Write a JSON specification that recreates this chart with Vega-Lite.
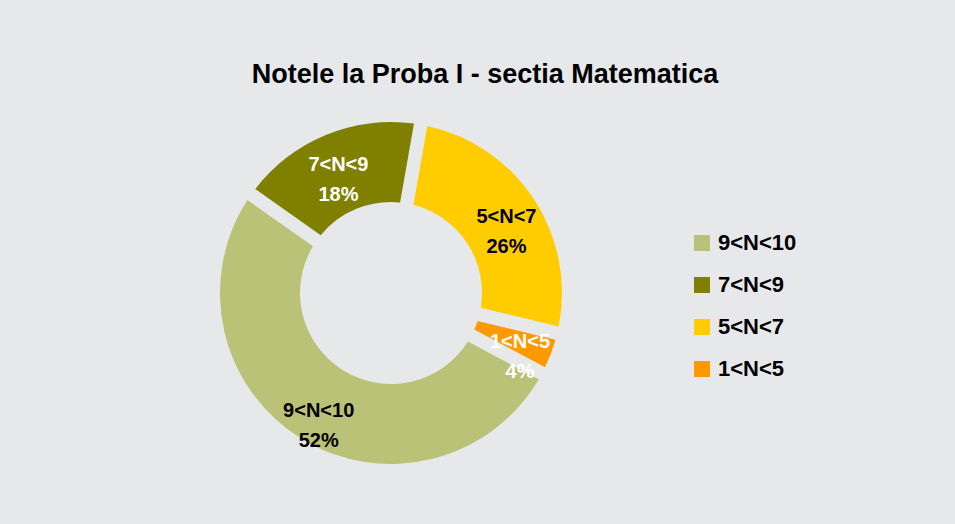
{
  "$schema": "https://vega.github.io/schema/vega-lite/v6.json",
  "width": 762,
  "height": 462,
  "autosize": {"type": "none"},
  "padding": {"left": 10, "top": 62, "right": 183, "bottom": 0},
  "background": "#E7E8EA",
  "config": {"view": {"stroke": null}, "font": "Liberation Sans"},
  "title": {
    "text": "Notele la Proba I - sectia Matematica",
    "font": "Liberation Sans",
    "fontSize": 27,
    "fontWeight": "bold",
    "color": "#000000",
    "anchor": "middle",
    "dx": 94,
    "offset": -27
  },
  "data": {
    "values": [
      {"cat": "5<N<7", "pct": 26},
      {"cat": "1<N<5", "pct": 4},
      {"cat": "9<N<10", "pct": 52},
      {"cat": "7<N<9", "pct": 18}
    ]
  },
  "transform": [
    {"window": [{"op": "row_number", "as": "idx"}]},
    {"calculate": "datum.cat + '\\n' + datum.pct + '%'", "as": "lbl"}
  ],
  "encoding": {
    "theta": {"field": "pct", "type": "quantitative", "stack": true, "scale": {"range": [0.1745, 6.4577]}},
    "order": {"field": "idx", "type": "quantitative"}
  },
  "layer": [
    {
      "mark": {"type": "arc", "innerRadius": 91, "outerRadius": 171, "padAngle": 0.07},
      "encoding": {
        "color": {
          "field": "cat",
          "type": "nominal",
          "scale": {
            "domain": ["9<N<10", "7<N<9", "5<N<7", "1<N<5"],
            "range": ["#B9C276", "#808000", "#FFCC00", "#FF9900"]
          },
          "legend": {
            "title": null,
            "orient": "none",
            "legendX": 681,
            "legendY": 170,
            "padding": 0,
            "symbolType": "square",
            "symbolSize": 256,
            "symbolStrokeWidth": 0,
            "labelFont": "Liberation Sans",
            "labelFontSize": 22,
            "labelFontWeight": "bold",
            "labelColor": "#000000",
            "labelOffset": 5,
            "rowPadding": 20
          }
        }
      }
    },
    {
      "mark": {"type": "text", "radius": 138, "font": "Liberation Sans", "fontSize": 20, "fontWeight": "bold", "lineBreak": "\n", "lineHeight": 30},
      "encoding": {
        "text": {"field": "lbl", "type": "nominal"},
        "color": {
          "condition": {"test": "datum.cat == '7<N<9' || datum.cat == '1<N<5'", "value": "#FFFFFF"},
          "value": "#000000"
        }
      }
    }
  ]
}
